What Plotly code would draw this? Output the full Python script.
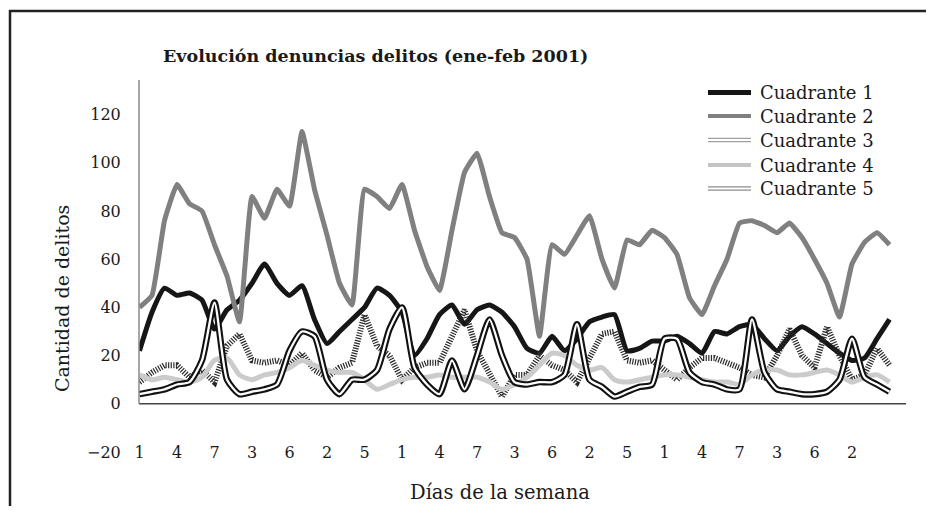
import plotly.graph_objects as go

# ---------------- data ----------------
dias = list(range(61))

cuadrante_1 = [22, 38, 48, 45, 46, 43, 31, 39, 43, 50, 58, 50, 45, 49, 35, 25,
               30, 35, 40, 48, 45, 38, 20, 27, 37, 41, 33, 39, 41, 38, 32, 23,
               21, 28, 22, 27, 34, 36, 37, 22, 23, 26, 26, 28, 25, 21, 30, 29,
               32, 33, 27, 22, 28, 32, 29, 25, 21, 18, 19, 27, 35]
cuadrante_2 = [40, 45, 76, 91, 83, 80, 66, 53, 34, 86, 77, 89, 82, 113, 89, 70,
               50, 41, 89, 86, 81, 91, 72, 57, 47, 72, 96, 104, 86, 71, 69, 60,
               28, 66, 62, 70, 78, 60, 48, 68, 66, 72, 69, 62, 44, 37, 49, 60,
               75, 76, 74, 71, 75, 69, 60, 50, 36, 58, 67, 71, 66]
cuadrante_3 = [9, 13, 16, 16, 11, 14, 9, 24, 29, 18, 17, 18, 16, 21, 14, 11,
               15, 17, 37, 24, 20, 10, 15, 17, 17, 28, 39, 22, 12, 3, 12, 12,
               20, 16, 14, 9, 19, 29, 30, 18, 17, 18, 14, 10, 15, 19, 19, 17,
               15, 12, 11, 20, 31, 20, 15, 32, 20, 10, 12, 23, 16]
cuadrante_4 = [12, 10, 11, 10, 9, 11, 18, 19, 12, 10, 12, 13, 15, 18, 16, 14,
               13, 13, 10, 6, 8, 10, 11, 11, 12, 11, 11, 11, 9, 6, 8, 11,
               16, 21, 20, 16, 14, 15, 10, 9, 10, 11, 12, 12, 11, 10, 9, 9,
               8, 12, 14, 14, 12, 12, 13, 14, 12, 9, 11, 12, 9]
cuadrante_5 = [4, 5, 6, 8, 9, 18, 42, 10, 4, 5, 6, 8, 22, 30, 28, 10,
               4, 10, 10, 14, 31, 40, 15, 8, 4, 18, 6, 20, 35, 20, 9, 8,
               9, 9, 12, 33, 10, 7, 3, 5, 7, 8, 27, 27, 13, 9, 8, 6,
               6, 35, 13, 6, 5, 4, 4, 5, 10, 27, 11, 8, 5]

series_names = ["Cuadrante 1", "Cuadrante 2", "Cuadrante 3", "Cuadrante 4", "Cuadrante 5"]
x_tick_pos = list(range(0, 60, 3))
x_tick_labels = ["1", "4", "7", "3", "6", "2", "5", "1", "4", "7",
                 "3", "6", "2", "5", "1", "4", "7", "3", "6", "2"]
y_ticks = [-20, 0, 20, 40, 60, 80, 100, 120]

title_text = "Evolución denuncias delitos (ene-feb 2001)"
y_title = "Cantidad de delitos"
x_title = "Días de la semana"

# ---------------- layout geometry ----------------
OFF = 8                      # page body margin
W, H = 934 - 2 * OFF, 514 - 2 * OFF
L = 139 - OFF                # y axis at page x = 139
T = 80 - OFF                 # plot top at page y = 80
R = W - (906 - OFF)          # plot right at page x = 906
B = H - (452 - OFF)          # plot bottom (value -20) at page y = 452
PW, PH = W - L - R, H - T - B
Y_MIN = -20
Y_MAX = Y_MIN + PH / 2.41
X_MIN = -0.04
X_MAX = X_MIN + PW / 12.5


def px(x):
    """page pixel x -> paper coordinate"""
    return (x - OFF - L) / PW


def py(y):
    """page pixel y -> paper coordinate"""
    return (H - B - (y - OFF)) / PH


FONT = "DejaVu Serif"

fig = go.Figure()

fig.add_trace(go.Scatter(x=dias, y=cuadrante_1, name=series_names[0], mode="lines",
                         line=dict(color="#161616", width=5, shape="spline", smoothing=0.5)))
fig.add_trace(go.Scatter(x=dias, y=cuadrante_2, name=series_names[1], mode="lines",
                         line=dict(color="#808080", width=5, shape="spline", smoothing=0.35)))
fig.add_trace(go.Scatter(x=dias, y=cuadrante_3, name=series_names[2], mode="lines",
                         line=dict(color="#2a2a2a", width=6, dash="1.2px,1.4px")))
fig.add_trace(go.Scatter(x=dias, y=cuadrante_4, name=series_names[3], mode="lines",
                         line=dict(color="#cbcbcb", width=5, shape="spline", smoothing=0.7)))
fig.add_trace(go.Scatter(x=dias, y=cuadrante_5, name=series_names[4], mode="lines",
                         line=dict(color="#111111", width=6.5, shape="spline", smoothing=0.6)))
fig.add_trace(go.Scatter(x=dias, y=cuadrante_5, name=series_names[4], mode="lines",
                         hoverinfo="skip",
                         line=dict(color="#ffffff", width=2.3, shape="spline", smoothing=0.6)))

shapes = []
# outer frame (top and left edges only; the rest lies outside the picture)
shapes.append(dict(type="line", xref="paper", yref="paper",
                   x0=px(9), y0=py(11), x1=px(940), y1=py(11),
                   line=dict(color="#222222", width=2.5), layer="below"))
shapes.append(dict(type="line", xref="paper", yref="paper",
                   x0=px(10), y0=py(10), x1=px(10), y1=py(520),
                   line=dict(color="#222222", width=2.5), layer="below"))
# y axis line (from 0 up)
shapes.append(dict(type="line", xref="paper", yref="y", x0=0, x1=0, y0=0, y1=Y_MAX,
                   line=dict(color="#8a8a8a", width=1.5)))
# x axis line at y = 0
shapes.append(dict(type="line", xref="paper", yref="y", x0=0, x1=1, y0=0, y1=0,
                   line=dict(color="#444444", width=1.5), layer="below"))

# manual legend
leg_y = [92.5, 116, 140, 165, 188.5]
lx0, lx1 = 708, 751
shapes.append(dict(type="line", xref="paper", yref="paper", x0=px(lx0), x1=px(lx1),
                   y0=py(leg_y[0]), y1=py(leg_y[0]), line=dict(color="#161616", width=5)))
shapes.append(dict(type="line", xref="paper", yref="paper", x0=px(lx0), x1=px(lx1),
                   y0=py(leg_y[1]), y1=py(leg_y[1]), line=dict(color="#808080", width=4)))
for dy in (-1.7, 1.7):
    shapes.append(dict(type="line", xref="paper", yref="paper", x0=px(lx0), x1=px(lx1),
                       y0=py(leg_y[2] + dy), y1=py(leg_y[2] + dy),
                       line=dict(color="#a0a0a0", width=1.3)))
shapes.append(dict(type="line", xref="paper", yref="paper", x0=px(lx0), x1=px(lx1),
                   y0=py(leg_y[3]), y1=py(leg_y[3]), line=dict(color="#c4c4c4", width=4)))
for dy in (-1.7, 1.7):
    shapes.append(dict(type="line", xref="paper", yref="paper", x0=px(lx0), x1=px(lx1),
                       y0=py(leg_y[4] + dy), y1=py(leg_y[4] + dy),
                       line=dict(color="#8c8c8c", width=1.3)))

annotations = []
for name, yy in zip(series_names, leg_y):
    annotations.append(dict(text=name, xref="paper", yref="paper", x=px(758), y=py(yy),
                            xanchor="left", yanchor="middle", showarrow=False,
                            font=dict(family=FONT, size=18, color="#1a1a1a")))
annotations.append(dict(text=y_title, xref="paper", yref="paper", x=px(62), y=py(299),
                        xanchor="center", yanchor="middle", showarrow=False, textangle=-90,
                        font=dict(family=FONT, size=19, color="#1a1a1a")))
annotations.append(dict(text=x_title, xref="paper", yref="paper", x=px(500), y=py(493),
                        xanchor="center", yanchor="middle", showarrow=False,
                        font=dict(family=FONT, size=19.5, color="#1a1a1a")))
annotations.append(dict(text="<b>" + title_text + "</b>", xref="paper", yref="paper",
                        x=px(161), y=py(56), xanchor="left", yanchor="middle", showarrow=False,
                        font=dict(family=FONT, size=17.5, color="#1a1a1a")))

fig.update_layout(
    width=W, height=H,
    margin=dict(l=L, r=R, t=T, b=B, pad=0),
    paper_bgcolor="white", plot_bgcolor="white",
    showlegend=False,
    shapes=shapes, annotations=annotations,
    xaxis=dict(range=[X_MIN, X_MAX], tickmode="array", tickvals=x_tick_pos,
               ticktext=x_tick_labels, showgrid=False, zeroline=False, showline=False,
               ticks="", anchor="free", position=(452 - 441) / PH,
               tickfont=dict(family=FONT, size=16, color="#1a1a1a")),
    yaxis=dict(range=[Y_MIN, Y_MAX], tickmode="array", tickvals=y_ticks,
               showgrid=False, zeroline=False, showline=False,
               ticks="outside", ticklen=14, tickcolor="rgba(0,0,0,0)",
               tickfont=dict(family=FONT, size=16, color="#1a1a1a")),
)

fig.write_html("out.html")
